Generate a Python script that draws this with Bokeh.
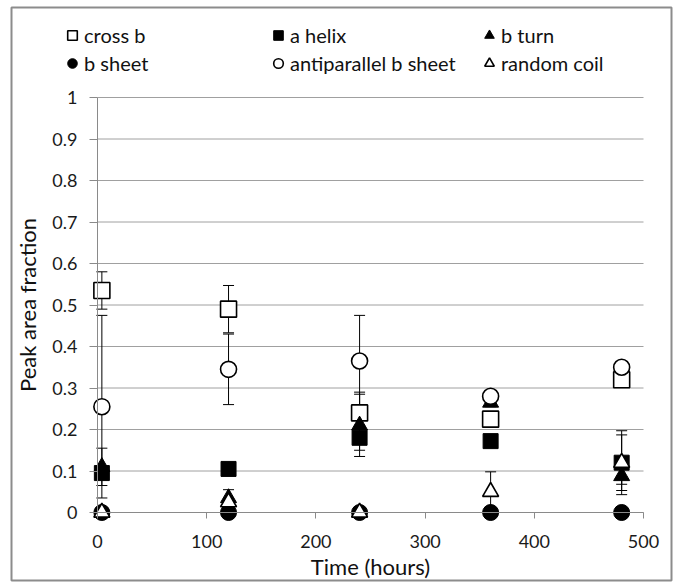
from bokeh.plotting import figure
from bokeh.models import (ColumnDataSource, Range1d, FixedTicker, Whisker, TeeHead,
                          Legend, LegendItem)
from bokeh.embed import file_html
from bokeh.resources import INLINE

# ---- data ----
time_h = [4, 120, 240, 360, 480]

cross_b = [0.535, 0.49, 0.24, 0.225, 0.32]
cross_b_err = [0.045, 0.057, 0.05, 0.01, 0.005]

a_helix = [0.095, 0.105, 0.18, 0.172, 0.12]
a_helix_err = [0.01, 0.005, 0.03, 0.01, 0.077]

b_turn = [0.11, 0.035, 0.21, 0.265, 0.088]
b_turn_err = [0.045, 0.02, 0.075, 0.01, 0.02]

b_sheet = [0, 0, 0, 0, 0]
b_sheet_err = [0, 0, 0, 0, 0]

antiparallel = [0.255, 0.345, 0.365, 0.28, 0.35]
antiparallel_err = [0.22, 0.085, 0.11, 0.01, 0.01]

random_coil = [0, 0.025, 0, 0.05, 0.12]
random_coil_err = [0, 0.005, 0, 0.048, 0.067]

x_ticks = [0, 100, 200, 300, 400, 500]
y_ticks = [0, 0.1, 0.2, 0.3, 0.4, 0.5, 0.6, 0.7, 0.8, 0.9, 1]
y_tick_labels = ["0", "0.1", "0.2", "0.3", "0.4", "0.5", "0.6", "0.7", "0.8", "0.9", "1"]

X_MIN, X_MAX = 0, 500
Y_MIN, Y_MAX = 0, 1

FONT = "Lato"
GRID = "#a0a0a0"
AXIS = "#8a8a8a"

# ---- layout: the frame is the outer bordered box; the data area sits inside it ----
W, H = 678, 586
BOX_L, BOX_R, BOX_T, BOX_B = 11, 671, 7, 580          # outer border (pixels)
DATA_L, DATA_R, DATA_T, DATA_B = 97, 643, 97, 512     # data area (pixels)

xs = (X_MAX - X_MIN) / (DATA_R - DATA_L)
ys = (Y_MAX - Y_MIN) / (DATA_B - DATA_T)
x_range = Range1d(X_MIN - (DATA_L - BOX_L) * xs, X_MAX + (BOX_R - DATA_R) * xs)
y_range = Range1d(Y_MIN - (BOX_B - DATA_B) * ys, Y_MAX + (DATA_T - BOX_T) * ys)

p = figure(width=W, height=H, x_range=x_range, y_range=y_range,
           output_backend="svg", toolbar_location=None,
           min_border_left=BOX_L, min_border_right=W - BOX_R,
           min_border_top=BOX_T, min_border_bottom=H - BOX_B)
p.outline_line_color = "#8c8c8c"
p.outline_line_width = 2
p.background_fill_color = "white"
p.border_fill_color = "white"
p.grid.visible = False

# axes drawn at the data origin
p.xaxis.fixed_location = 0
p.xaxis.bounds = (X_MIN, X_MAX)
p.xaxis.ticker = FixedTicker(ticks=x_ticks)
p.yaxis.fixed_location = 0
p.yaxis.bounds = (Y_MIN, Y_MAX)
p.yaxis.ticker = FixedTicker(ticks=y_ticks)
p.yaxis.major_label_overrides = dict(zip(y_ticks, y_tick_labels))

for ax in (p.xaxis[0], p.yaxis[0]):
    ax.axis_line_color = AXIS
    ax.major_tick_line_color = AXIS
    ax.minor_tick_line_color = None
    ax.major_tick_in = 0
    ax.major_label_text_font = FONT
    ax.major_label_text_font_size = "18px"
    ax.major_label_text_color = "#1a1a1a"
    ax.axis_label_text_font = FONT
    ax.axis_label_text_font_size = "22px"
    ax.axis_label_text_font_style = "normal"
    ax.axis_label_text_color = "#111111"

p.xaxis.major_tick_out = 6
p.xaxis.major_label_standoff = 16
p.xaxis.axis_label = "Time (hours)"
p.xaxis.axis_label_standoff = 2
p.yaxis.major_tick_out = 8
p.yaxis.major_label_standoff = 12
p.yaxis.axis_label = "Peak area fraction"
p.yaxis.axis_label_standoff = 8

# horizontal gridlines spanning the x-axis bounds
grid_src = ColumnDataSource(dict(y=y_ticks, x0=[X_MIN] * len(y_ticks), x1=[X_MAX] * len(y_ticks)))
p.add_layout(Whisker(source=grid_src, base="y", lower="x0", upper="x1", dimension="width",
                     line_color=GRID, line_width=1, upper_head=None, lower_head=None,
                     level="underlay"))


def series(y, err):
    src = ColumnDataSource(dict(
        x=time_h, y=y,
        upper=[a + b for a, b in zip(y, err)],
        lower=[a - b for a, b in zip(y, err)]))
    w = Whisker(source=src, base="x", upper="upper", lower="lower",
                line_color="black", line_width=1,
                upper_head=TeeHead(size=11, line_color="black", line_width=1),
                lower_head=TeeHead(size=11, line_color="black", line_width=1))
    p.add_layout(w)
    return src


specs = [
    ("cross b", cross_b, cross_b_err, "square", 16, "white", 1.6),
    ("a helix", a_helix, a_helix_err, "square", 15, "black", 1),
    ("b turn", b_turn, b_turn_err, "triangle", 16, "black", 1),
    ("b sheet", b_sheet, b_sheet_err, "circle", 16, "black", 1),
    ("antiparallel b sheet", antiparallel, antiparallel_err, "circle", 16, "white", 1.6),
    ("random coil", random_coil, random_coil_err, "triangle", 16, "white", 1.6),
]

srcs = [series(y, e) for (_, y, e, *_rest) in specs]
rends = {}
for (name, y, e, m, s, f, lw), src in zip(specs, srcs):
    rends[name] = p.scatter("x", "y", source=src, marker=m, size=s,
                            fill_color=f, line_color="black", line_width=lw)


def make_legend(names, left_px):
    lg = Legend(items=[LegendItem(label=n, renderers=[rends[n]]) for n in names],
                location=(left_px - BOX_L, BOX_B - 75), orientation="vertical",
                glyph_width=24, glyph_height=24, label_standoff=0,
                spacing=4, padding=0, margin=0, label_height=20,
                border_line_color=None, background_fill_alpha=0,
                label_text_font=FONT, label_text_font_size="20px",
                label_text_color="#111111")
    p.add_layout(lg)


make_legend(["cross b", "b sheet"], 60)
make_legend(["a helix", "antiparallel b sheet"], 266)
make_legend(["b turn", "random coil"], 477)

open("out.html", "w").write(file_html(p, INLINE))
